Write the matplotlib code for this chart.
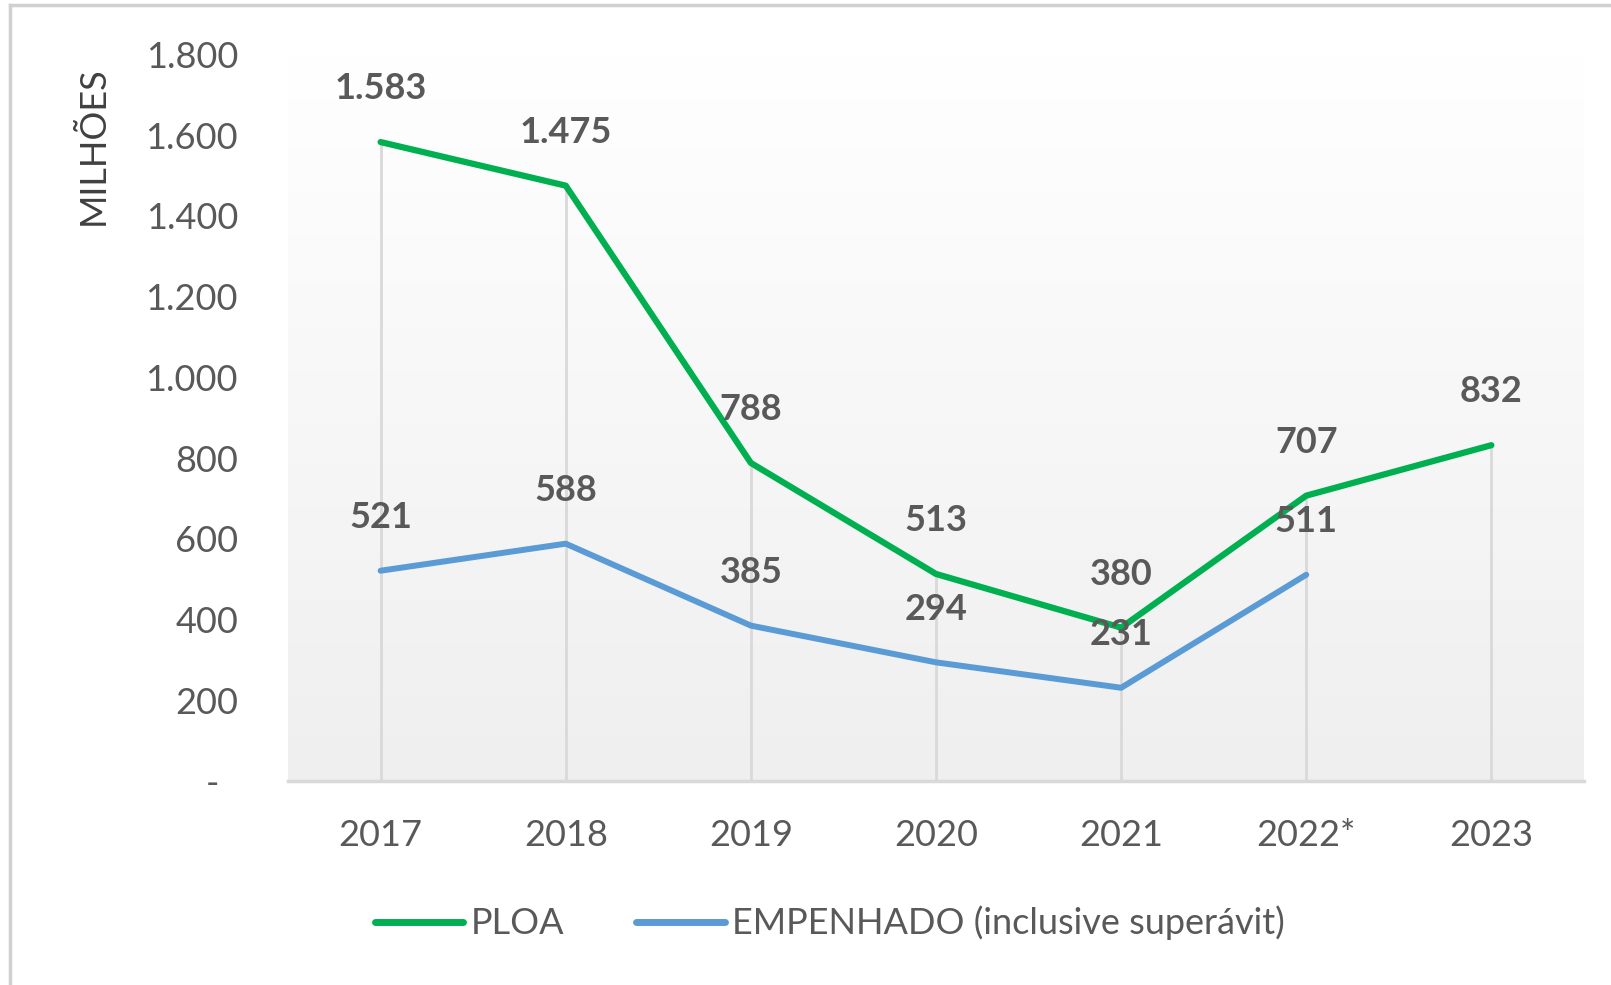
import numpy as np
import matplotlib
matplotlib.use("Agg")
import matplotlib.pyplot as plt
from matplotlib.lines import Line2D
from matplotlib.colors import LinearSegmentedColormap

years = ["2017", "2018", "2019", "2020", "2021", "2022*", "2023"]
ploa = [1583, 1475, 788, 513, 380, 707, 832]
empenhado = [521, 588, 385, 294, 231, 511]
yticks = [0, 200, 400, 600, 800, 1000, 1200, 1400, 1600, 1800]
ylabel = "MILHÕES"
series_names = ["PLOA", "EMPENHADO (inclusive superávit)"]

GREEN = "#00b050"
BLUE = "#5b9bd5"
TXT = "#595959"

plt.rcParams['font.family'] = ['Lato', 'DejaVu Sans']

def br(v):
    return f"{v:,.0f}".replace(",", ".")

fig = plt.figure(figsize=(16.11, 9.85), dpi=100)
ax = fig.add_axes([0.1788, 0.2071, 0.8044, 0.7376])

x = np.arange(len(years))
ax.set_xlim(-0.5, len(years) - 0.5)
ax.set_ylim(0, 1800)

# gradient background: white at top, light grey at bottom
cmap = LinearSegmentedColormap.from_list("g", ["#efefef", "#ffffff"])
ax.imshow(np.linspace(1, 0, 256).reshape(-1, 1), aspect="auto", cmap=cmap,
          extent=(-0.5, len(years) - 0.5, 0, 1800), origin="upper", zorder=0, vmin=0, vmax=1)

# drop lines
for i in range(len(years)):
    top = max([ploa[i]] + ([empenhado[i]] if i < len(empenhado) else []))
    ax.vlines(x[i], 0, top, color="#d9d9d9", lw=2, zorder=1)

l1, = ax.plot(x, ploa, color=GREEN, lw=4.5, solid_capstyle="round", zorder=3)
l2, = ax.plot(x[:len(empenhado)], empenhado, color=BLUE, lw=4.3, solid_capstyle="round", zorder=3)

for xi, v in zip(x, ploa):
    ax.annotate(br(v), (xi, v), xytext=(0, 38.5), textcoords="offset points",
                ha="center", va="center", fontsize=26, fontweight="bold", color=TXT, zorder=4)
for xi, v in zip(x, empenhado):
    ax.annotate(br(v), (xi, v), xytext=(0, 38), textcoords="offset points",
                ha="center", va="center", fontsize=26, fontweight="bold", color=TXT, zorder=4)

for s in ["top", "right", "left"]:
    ax.spines[s].set_visible(False)
ax.spines["bottom"].set_color("#d9d9d9")
ax.spines["bottom"].set_linewidth(2.5)

ax.set_xticks(x)
ax.set_xticklabels(years)
ax.set_yticks(yticks)
ax.set_yticklabels(["-  "] + [br(t) for t in yticks[1:]])
ax.tick_params(axis="both", length=0, labelsize=26, colors=TXT)
ax.tick_params(axis="x", pad=27)
ax.tick_params(axis="y", pad=36)

fig.text(93 / 1611, 1 - 146 / 985, ylabel, rotation=90, ha="center", va="center",
         fontsize=26, color="#404040")

leg = fig.legend([l1, l2], series_names, loc="center", bbox_to_anchor=(0.515, 1 - 923 / 985),
                 ncol=2, frameon=False, fontsize=26, handlelength=2.45, handletextpad=0.2,
                 columnspacing=2.0, labelcolor=TXT)
for h in leg.get_lines():
    h.set_linewidth(5)

# chart border remnants
fig.add_artist(Line2D([10 / 1611, 1], [1 - 5 / 985, 1 - 5 / 985], transform=fig.transFigure,
                      color="#d0d0d0", lw=2.5))
fig.add_artist(Line2D([10 / 1611, 10 / 1611], [0, 1 - 5 / 985], transform=fig.transFigure,
                      color="#d0d0d0", lw=2.5))

fig.savefig("out.png", dpi=100)
